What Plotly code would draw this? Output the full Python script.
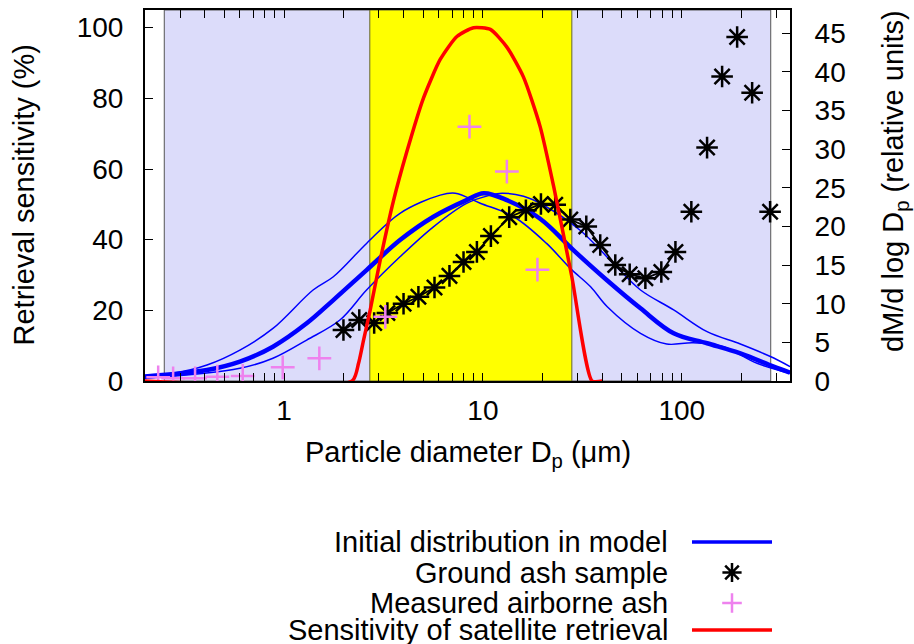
import plotly.graph_objects as go

# ---------------- data ----------------
# Retrieval sensitivity of the satellite (% , left axis)
sens_x = [0.2, 2.2, 2.37, 2.51, 2.71, 3.04, 3.55, 4.15, 5.02, 6.1, 7.4, 8.97, 10.9, 13.2, 16.0, 19.4, 22.7, 28.0, 35.4, 40.0]
sens_y = [0, 0, 5, 11.5, 20, 34, 51, 65, 80, 91, 97.5, 100, 99.5, 94.5, 86, 72, 55, 29.5, 0, 0]

# Initial distributions in model (dM/dlogDp, right axis)
model_main_x = [0.2, 0.41, 0.6, 0.88, 1.3, 1.77, 2.6, 3.83, 5.64, 8.28, 10.1, 13.2, 19.4, 28.6, 42.2, 62, 91, 134, 197, 290, 350]
model_main_y = [0.58, 1.42, 2.5, 4.44, 7.46, 10.47, 14.35, 18.23, 21.25, 23.4, 24.3, 23.4, 21.0, 16.9, 13.0, 9.4, 6.17, 4.88, 3.58, 1.85, 1.07]

model_fine_x = [0.2, 0.277, 0.41, 0.6, 0.88, 1.4, 1.77, 2.6, 3.83, 6.1, 7.25, 9.7, 14.3, 20.9, 27.5, 34.8, 42.2, 62, 84, 114, 162, 239, 350]
model_fine_y = [0.71, 1.0, 2.07, 4.0, 6.8, 11.77, 13.49, 17.8, 21.7, 24.05, 24.3, 23.0, 21.25, 17.8, 14.57, 12.19, 9.61, 6.17, 4.78, 4.95, 4.44, 2.29, 1.0]

model_coarse_x = [0.2, 0.6, 0.88, 1.3, 1.91, 2.6, 3.83, 5.64, 8.28, 10.9, 12.5, 16, 20, 30.8, 45.3, 62, 91, 134, 197, 290, 350]
model_coarse_y = [0.32, 1.64, 2.94, 5.3, 7.89, 11.77, 16.07, 19.95, 22.98, 24.05, 24.3, 23.9, 22.8, 19.5, 15.2, 11.77, 9.2, 6.38, 4.78, 2.97, 1.85]

# Ground ash sample
ground_x = [1.99, 2.39, 2.84, 3.31, 3.99, 4.74, 5.71, 6.79, 7.99, 9.33, 10.97, 13.56, 16.45, 19.58, 23.1, 27.5, 33.1, 38.9, 46.3, 54.7, 65.6, 78.9, 92.9]
ground_y = [6.6, 7.9, 7.5, 8.8, 10.0, 10.9, 12.1, 13.6, 15.4, 16.7, 18.75, 21.2, 22.1, 22.9, 22.8, 20.9, 20.0, 17.6, 15.0, 13.8, 13.3, 14.1, 16.7]
ground_coarse_x = [111.7, 134, 159.5, 189.8, 225.8, 278]
ground_coarse_y = [21.9, 30.2, 39.4, 44.5, 37.3, 21.9]

# Measured airborne ash
air_x = [0.233, 0.277, 0.357, 0.462, 0.62, 0.985, 1.505, 3.23, 8.56, 13.2, 18.8]
air_y = [0.48, 0.35, 0.35, 0.56, 0.65, 1.77, 2.94, 8.3, 32.9, 27.1, 14.4]

# Shaded size windows (µm)
window_outer = [0.25, 280]
window_inner = [2.7, 28]

x_ticks = [1, 10, 100]
x_minor = [0.3, 0.4, 0.5, 0.6, 0.7, 0.8, 0.9, 2, 3, 4, 5, 6, 7, 8, 9,
           20, 30, 40, 50, 60, 70, 80, 90, 200, 300]
left_ticks = [0, 20, 40, 60, 80, 100]
right_ticks = [0, 5, 10, 15, 20, 25, 30, 35, 40, 45]

legend_labels = ["Initial distribution in model", "Ground ash sample",
                 "Measured airborne ash", "Sensitivity of satellite retrieval"]

# ---------------- layout constants ----------------
W, H = 914, 644
L_PX, R_PX, T_PX, B_PX = 145, 790, 10, 381
FONT = "Liberation Sans, Arial, sans-serif"
FS = 29
TICK_FS = 28
BLUE, RED, VIOLET = "#0000ff", "#ff0000", "#ee82ee"


def fx(p):
    return p / W


def fy(p):
    return 1 - p / H


fig = go.Figure()

line_kw = dict(xaxis="x", yaxis="y", mode="lines", hoverinfo="skip", showlegend=False)
fig.add_trace(go.Scatter(x=model_fine_x, y=model_fine_y, line=dict(color=BLUE, width=1.5, shape="spline"), **line_kw))
fig.add_trace(go.Scatter(x=model_coarse_x, y=model_coarse_y, line=dict(color=BLUE, width=1.5, shape="spline"), **line_kw))
fig.add_trace(go.Scatter(x=model_main_x, y=model_main_y, line=dict(color=BLUE, width=4.5, shape="spline"), **line_kw))

ast = dict(symbol="asterisk-open", size=18, color="black", line=dict(color="black", width=2.5))
fig.add_trace(go.Scatter(x=ground_x, y=ground_y, mode="lines+markers", showlegend=False,
                         line=dict(color="black", width=1.8), marker=ast))
fig.add_trace(go.Scatter(x=ground_coarse_x, y=ground_coarse_y, mode="markers", showlegend=False, marker=ast))
fig.add_trace(go.Scatter(x=air_x, y=air_y, mode="markers", showlegend=False,
                         marker=dict(symbol="cross-thin-open", size=17, color=VIOLET,
                                     line=dict(color=VIOLET, width=2.5))))

fig.add_trace(go.Scatter(x=sens_x, y=sens_y, xaxis="x", yaxis="y2", mode="lines", showlegend=False,
                         line=dict(color=RED, width=3.5, shape="spline", smoothing=0.6)))

# legend keys on a hidden pixel-space axis
leg_rows = [542, 572.5, 603, 630]
leg_x0, leg_x1 = 692, 772
leg_xc = (leg_x0 + leg_x1) / 2
lk = dict(xaxis="x2", yaxis="y3", showlegend=False, hoverinfo="skip")
fig.add_trace(go.Scatter(x=[leg_x0, leg_x1], y=[leg_rows[0]] * 2, mode="lines", line=dict(color=BLUE, width=3.5), **lk))
fig.add_trace(go.Scatter(x=[leg_xc], y=[leg_rows[1]], mode="markers",
                         marker=dict(symbol="asterisk-open", size=16, color="black",
                                     line=dict(color="black", width=2.5)), **lk))
fig.add_trace(go.Scatter(x=[leg_xc], y=[leg_rows[2]], mode="markers",
                         marker=dict(symbol="cross-thin-open", size=14, color=VIOLET,
                                     line=dict(color=VIOLET, width=2.5)), **lk))
fig.add_trace(go.Scatter(x=[leg_x0, leg_x1], y=[leg_rows[3]] * 2, mode="lines", line=dict(color=RED, width=3.5), **lk))

shapes = [
    dict(type="rect", xref="x", yref="y domain", x0=window_outer[0], x1=window_outer[1], y0=0, y1=1,
         fillcolor="#dcdcfa", line=dict(color="#555555", width=1), layer="below"),
    dict(type="rect", xref="x", yref="y domain", x0=window_inner[0], x1=window_inner[1], y0=0, y1=1,
         fillcolor="#ffff00", line=dict(color="#666633", width=1), layer="below"),
]

annotations = [
    dict(text="Retrieval sensitivity (%)", x=fx(23), y=fy((T_PX + B_PX) / 2), textangle=-90,
         xref="paper", yref="paper", showarrow=False, xanchor="center", yanchor="middle"),
    dict(text="dM/d log D<sub>p</sub> (relative units)", x=fx(895), y=fy(181), textangle=-90,
         xref="paper", yref="paper", showarrow=False, xanchor="center", yanchor="middle"),
    dict(text="Particle diameter D<sub>p</sub> (μm)", x=fx((L_PX + R_PX) / 2), y=fy(454),
         xref="paper", yref="paper", showarrow=False, xanchor="center", yanchor="middle"),
]
for lab, row in zip(legend_labels, leg_rows):
    annotations.append(dict(text=lab, x=fx(670), y=fy(row), xref="paper", yref="paper",
                            showarrow=False, xanchor="right", yanchor="middle"))

dom_x = [fx(L_PX), fx(R_PX)]
dom_y = [fy(B_PX), fy(T_PX)]
tickfont = dict(family=FONT, size=TICK_FS, color="black")

fig.update_layout(
    width=W, height=H,
    margin=dict(l=0, r=0, t=0, b=0),
    paper_bgcolor="white", plot_bgcolor="rgba(0,0,0,0)",
    font=dict(family=FONT, size=FS, color="black"),
    showlegend=False,
    shapes=shapes,
    annotations=annotations,
    xaxis=dict(type="log", domain=dom_x, range=[-0.69897, 2.5441], anchor="y",
               tickvals=x_ticks, ticktext=[str(v) for v in x_ticks], tickfont=tickfont,
               ticks="inside", ticklen=8, tickwidth=1.2, tickcolor="black",
               minor=dict(tickvals=x_minor, ticks="inside", ticklen=4, tickwidth=1.2, tickcolor="black", showgrid=False),
               showline=True, linecolor="black", linewidth=2, mirror="allticks",
               showgrid=False, zeroline=False, automargin=False, ticklabelstandoff=3),
    yaxis=dict(domain=dom_y, range=[0, 48], side="right", anchor="x", tickfont=tickfont,
               tickvals=right_ticks, ticks="inside", ticklen=8, tickwidth=1.2, tickcolor="black",
               showline=True, linecolor="black", linewidth=2,
               showgrid=False, zeroline=False, automargin=False, ticklabelstandoff=17),
    yaxis2=dict(range=[0, 105], side="left", overlaying="y", anchor="x", tickfont=tickfont,
                tickvals=left_ticks, ticks="inside", ticklen=8, tickwidth=1.2, tickcolor="black",
                showline=True, linecolor="black", linewidth=2,
                showgrid=False, zeroline=False, automargin=False, ticklabelstandoff=14),
    xaxis2=dict(domain=[0, 1], range=[0, W], visible=False, anchor="y3", fixedrange=True),
    yaxis3=dict(domain=[0, 1], range=[H, 0], visible=False, anchor="x2", fixedrange=True),
)

fig.write_html("out.html")
